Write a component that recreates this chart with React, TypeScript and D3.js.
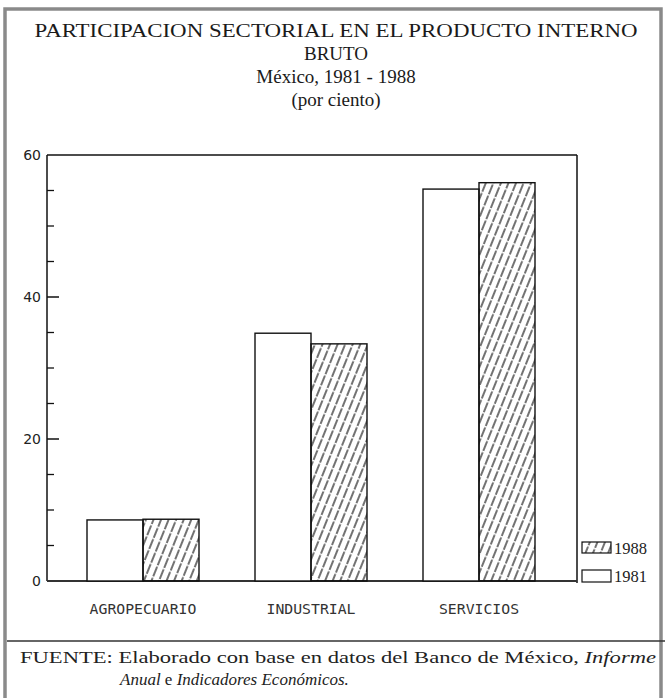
import React from "react";
import * as d3 from "d3";

const categories = ["AGROPECUARIO", "INDUSTRIAL", "SERVICIOS"];
const years = ["1981", "1988"];
const values1981 = [8.6, 34.9, 55.2];
const values1988 = [8.7, 33.4, 56.1];
const yTicksMajor = [0, 20, 40, 60];
const yTicksMinor = [5, 10, 15, 25, 30, 35, 45, 50, 55];
const titleLines = [
  "PARTICIPACION SECTORIAL EN EL PRODUCTO INTERNO",
  "BRUTO",
  "México, 1981 - 1988",
  "(por ciento)",
];

const W = 665;
const H = 698;

export default function App() {
  const plotLeft = 47;
  const plotRight = 577;
  const plotTop = 155;
  const plotBottom = 581;

  const y = d3.scaleLinear().domain([0, 60]).range([plotBottom, plotTop]);
  const x = d3.scaleBand<string>().domain(categories).range([59, 563]).padding(0);
  const inner = d3.scaleBand<string>().domain(years).range([0, 112]).padding(0);

  const series = [values1981, values1988];
  const serif = "'Liberation Serif', 'DejaVu Serif', serif";
  const mono = "'DejaVu Sans Mono', 'Liberation Mono', monospace";

  return (
    <svg
      width={W}
      height={H}
      viewBox={`0 0 ${W} ${H}`}
      style={{ position: "absolute", left: 0, top: 0, background: "#fff" }}
    >
      <defs>
        <pattern
          id="hatch"
          patternUnits="userSpaceOnUse"
          width={7}
          height={12}
          patternTransform="rotate(22)"
        >
          <line x1={1} y1={0} x2={1} y2={12} stroke="#000" strokeWidth={1.1} strokeDasharray="9 1.5" />
        </pattern>
      </defs>

      {/* outer frame */}
      <rect x={5} y={9} width={656} height={700} fill="none" stroke="#8a8a8a" strokeWidth={3.5} />
      <line x1={7} y1={641} x2={665} y2={641} stroke="#333" strokeWidth={1.5} />

      {/* title */}
      {titleLines.map((t, i) => (
        <text
          key={t}
          x={336}
          y={37 + i * 23}
          textAnchor="middle"
          fontFamily={serif}
          fontSize={19}
          fill="#1a1a1a"
          {...(i === 0 ? { textLength: 603, lengthAdjust: "spacingAndGlyphs" } : {})}
        >
          {t}
        </text>
      ))}

      {/* plot frame */}
      <line x1={plotLeft} y1={plotTop} x2={plotRight} y2={plotTop} stroke="#111" strokeWidth={1.5} />
      <line x1={plotRight} y1={plotTop} x2={plotRight} y2={plotBottom + 2} stroke="#111" strokeWidth={1.5} />
      <line x1={plotLeft} y1={plotTop} x2={plotLeft} y2={plotBottom} stroke="#111" strokeWidth={1.5} />
      <line x1={plotLeft} y1={plotBottom} x2={plotRight} y2={plotBottom} stroke="#333" strokeWidth={1.8} />

      {/* y ticks */}
      {yTicksMajor.map((v) => (
        <g key={`M${v}`}>
          {v > 0 && v < 60 && (
            <line x1={plotLeft} x2={plotLeft + 12} y1={y(v)} y2={y(v)} stroke="#111" strokeWidth={1.5} />
          )}
          <text
            x={41}
            y={y(v) + 5}
            textAnchor="end"
            fontFamily="'DejaVu Sans', sans-serif"
            fontSize={14}
            fill="#222"
          >
            {v}
          </text>
        </g>
      ))}
      {yTicksMinor.map((v) => (
        <line key={`m${v}`} x1={plotLeft} x2={plotLeft + 7} y1={y(v)} y2={y(v)} stroke="#111" strokeWidth={1.3} />
      ))}

      {/* bars */}
      {categories.map((c, ci) => {
        const gx = (x(c) as number) + x.bandwidth() / 2 - 56;
        return (
          <g key={c}>
            {years.map((yr, yi) => {
              const v = series[yi][ci];
              return (
                <rect
                  key={yr}
                  x={gx + (inner(yr) as number)}
                  y={y(v)}
                  width={inner.bandwidth()}
                  height={plotBottom - y(v)}
                  fill={yi === 0 ? "#fff" : "url(#hatch)"}
                  stroke="#111"
                  strokeWidth={1.4}
                />
              );
            })}
            <text
              x={(x(c) as number) + x.bandwidth() / 2}
              y={614}
              textAnchor="middle"
              fontFamily={mono}
              fontSize={14}
              fill="#333"
              textLength={c.length * 8.9}
              lengthAdjust="spacingAndGlyphs"
            >
              {c}
            </text>
          </g>
        );
      })}

      {/* legend */}
      <rect x={582} y={542} width={29} height={11} fill="url(#hatch)" stroke="#111" strokeWidth={1.2} />
      <text x={614} y={554} fontFamily={serif} fontSize={16.5} fill="#222">1988</text>
      <rect x={582} y={570} width={29} height={12} fill="#fff" stroke="#111" strokeWidth={1.2} />
      <text x={614} y={582} fontFamily={serif} fontSize={16.5} fill="#222">1981</text>

      {/* footer */}
      <text x={20} y={663} fontFamily={serif} fontSize={17} fill="#222" textLength={636} lengthAdjust="spacingAndGlyphs">
        FUENTE: Elaborado con base en datos del Banco de México,{" "}
        <tspan fontStyle="italic">Informe</tspan>
      </text>
      <text x={120} y={685} fontFamily={serif} fontSize={17} fill="#222" fontStyle="italic">
        Anual <tspan fontStyle="normal">e</tspan> Indicadores Económicos.
      </text>
    </svg>
  );
}
